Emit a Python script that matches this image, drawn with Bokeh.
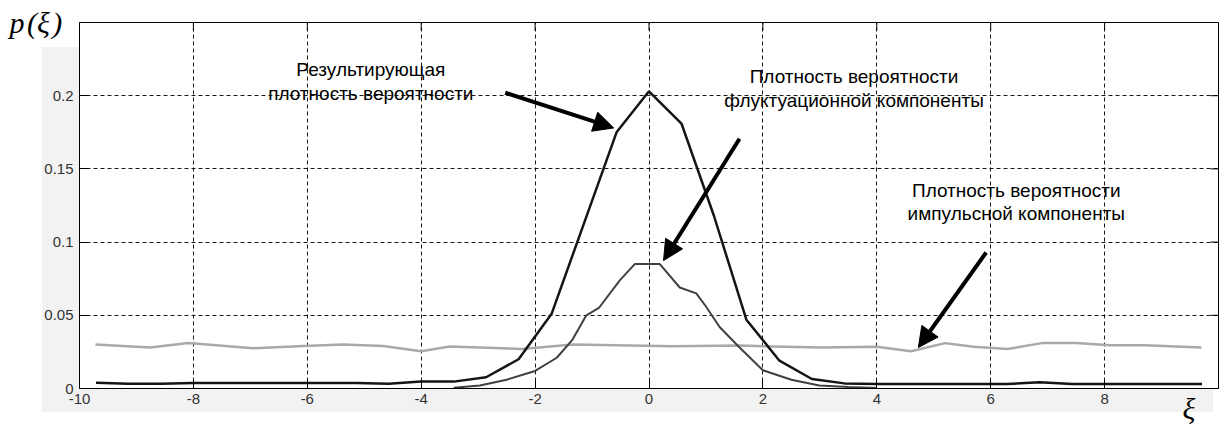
from bokeh.plotting import figure
from bokeh.models import (Range1d, FixedTicker, PrintfTickFormatter,
                          Label, Arrow, NormalHead)
from bokeh.embed import file_html
from bokeh.resources import INLINE

# ---- data ----
res_x = [-9.71, -9.14, -8.57, -8.0, -7.43, -6.86, -6.29, -5.71, -5.14, -4.57, -4.0, -3.43,
         -2.86, -2.29, -1.71, -1.14, -0.57, 0.0, 0.57, 1.14, 1.71, 2.29, 2.86, 3.43, 4.0,
         4.57, 5.14, 5.71, 6.29, 6.86, 7.43, 8.0, 8.57, 9.14, 9.71]
res_y = [0.0039, 0.0033, 0.0033, 0.0038, 0.0038, 0.0038, 0.0038, 0.0038, 0.0038, 0.0033, 0.0047, 0.0047,
         0.0077, 0.020, 0.051, 0.113, 0.175, 0.203, 0.181, 0.118, 0.047, 0.019, 0.0065, 0.0035, 0.003,
         0.003, 0.003, 0.003, 0.003, 0.0043, 0.003, 0.003, 0.003, 0.003, 0.003]

fl_x = [-3.43, -2.97, -2.5, -2.0, -1.62, -1.35, -1.1, -0.88, -0.51, -0.25, 0.19, 0.54, 0.83,
        1.0, 1.24, 1.59, 2.0, 2.5, 2.99, 3.5, 4.0]
fl_y = [0.0005, 0.002, 0.006, 0.012, 0.021, 0.033, 0.050, 0.055, 0.074, 0.085, 0.085, 0.069, 0.065,
        0.056, 0.042, 0.028, 0.0125, 0.006, 0.002, 0.001, 0.0003]

im_x = [-9.72, -8.76, -8.09, -6.95, -6.07, -5.37, -4.67, -4.0, -3.5, -2.24, -1.33, 0.42, 1.6,
        3.0, 4.0, 4.6, 5.2, 5.7, 6.3, 6.9, 7.5, 8.1, 8.7, 9.7]
im_y = [0.030, 0.028, 0.031, 0.0275, 0.029, 0.030, 0.029, 0.0255, 0.0287, 0.027, 0.030, 0.0289, 0.0293,
        0.028, 0.0285, 0.0255, 0.031, 0.0285, 0.027, 0.031, 0.031, 0.0295, 0.0295, 0.028]

x_ticks = [-10, -8, -6, -4, -2, 0, 2, 4, 6, 8]
y_ticks = [0, 0.05, 0.1, 0.15, 0.2]

X_MIN, X_MAX, Y_MIN, Y_MAX = -10, 10, 0, 0.25
FRAME_W, FRAME_H = 1139, 366
TICK_PX = 8

label_font = "Liberation Sans"
GREY = "#f2f2f2"

p = figure(frame_width=FRAME_W, frame_height=FRAME_H,
           x_range=Range1d(X_MIN, X_MAX), y_range=Range1d(Y_MIN, Y_MAX),
           output_backend="svg", toolbar_location=None,
           min_border_left=79, min_border_right=8, min_border_top=22, min_border_bottom=40,
           background_fill_color="white", border_fill_color=None)
p.outline_line_color = "black"
p.outline_line_width = 1

# MATLAB-like grey figure area around the axes (page background via CSS)
p.styles = {
    "background": (f"linear-gradient({GREY},{GREY}) 42px 47px / 37px 365px no-repeat, "
                   f"linear-gradient({GREY},{GREY}) 42px 388px / 1171px 24px no-repeat, white")
}

for ax in (p.xaxis[0], p.yaxis[0]):
    ax.axis_line_color = "black"
    ax.major_tick_line_color = "black"
    ax.major_tick_in = TICK_PX
    ax.major_tick_out = 0
    ax.minor_tick_line_color = None
    ax.major_label_text_font = label_font
    ax.major_label_text_font_size = "15px"
    ax.major_label_text_color = "#333333"
    ax.formatter = PrintfTickFormatter(format="%g")
    ax.axis_label_text_font = "Liberation Serif"
    ax.axis_label_text_font_style = "italic"
    ax.axis_label_text_font_size = "30px"
    ax.axis_label_text_color = "black"
p.xaxis[0].ticker = FixedTicker(ticks=x_ticks)
p.yaxis[0].ticker = FixedTicker(ticks=y_ticks)
p.xaxis[0].major_label_standoff = 5
p.yaxis[0].major_label_standoff = 6

# axis labels as in the reference: p(ξ) top-left, ξ bottom-right
p.yaxis[0].axis_label = "p\u200a(ξ\u200a)"
p.yaxis[0].axis_label_orientation = "horizontal"
p.yaxis[0].axis_label_align = "end"
p.yaxis[0].axis_label_standoff = -21
# centred label pushed to the right end with leading em spaces (stays inside the canvas)
p.xaxis[0].axis_label = "\u2003" * 36 + "ξ"
p.xaxis[0].axis_label_standoff = -15

for g in (p.xgrid[0], p.ygrid[0]):
    g.grid_line_color = "black"
    g.grid_line_dash = "4 3"
    g.grid_line_width = 1
    g.grid_line_alpha = 0.9
p.xgrid[0].ticker = FixedTicker(ticks=x_ticks)
p.ygrid[0].ticker = FixedTicker(ticks=y_ticks)

# inward ticks on the right and top box edges (MATLAB "box on")
dx = TICK_PX * (X_MAX - X_MIN) / FRAME_W
dy = TICK_PX * (Y_MAX - Y_MIN) / FRAME_H
p.segment(x0=[X_MAX] * len(y_ticks), x1=[X_MAX - dx] * len(y_ticks), y0=y_ticks, y1=y_ticks,
          line_color="black", line_width=1)
p.segment(x0=x_ticks, x1=x_ticks, y0=[Y_MAX] * len(x_ticks), y1=[Y_MAX - dy] * len(x_ticks),
          line_color="black", line_width=1)

# curves
p.line(im_x, im_y, line_color="#a9a9a9", line_width=2.5)
p.line(fl_x, fl_y, line_color="#404040", line_width=2)
p.line(res_x, res_y, line_color="#151515", line_width=2.5)

# annotations
texts = [
    (-4.885, 0.2177, "Результирующая"),
    (-4.885, 0.2013, "плотность вероятности"),
    (3.6, 0.2131, "Плотность вероятности"),
    (3.6, 0.1967, "флуктуационной компоненты"),
    (6.45, 0.1352, "Плотность вероятности"),
    (6.45, 0.1195, "импульсной компоненты"),
]
for tx, ty, t in texts:
    p.add_layout(Label(x=tx, y=ty, text=t, text_align="center", text_baseline="middle",
                       text_font=label_font, text_font_size="19px", text_color="black"))

arrows = [
    (-2.525, 0.202, -0.62, 0.178),
    (1.589, 0.1706, 0.255, 0.0874),
    (5.92, 0.0929, 4.73, 0.028),
]
for xs, ys, xe, ye in arrows:
    p.add_layout(Arrow(end=NormalHead(size=20, fill_color="black", line_color="black", line_width=1),
                       x_start=xs, y_start=ys, x_end=xe, y_end=ye,
                       line_color="black", line_width=4))

open("out.html", "w").write(file_html(p, INLINE))
